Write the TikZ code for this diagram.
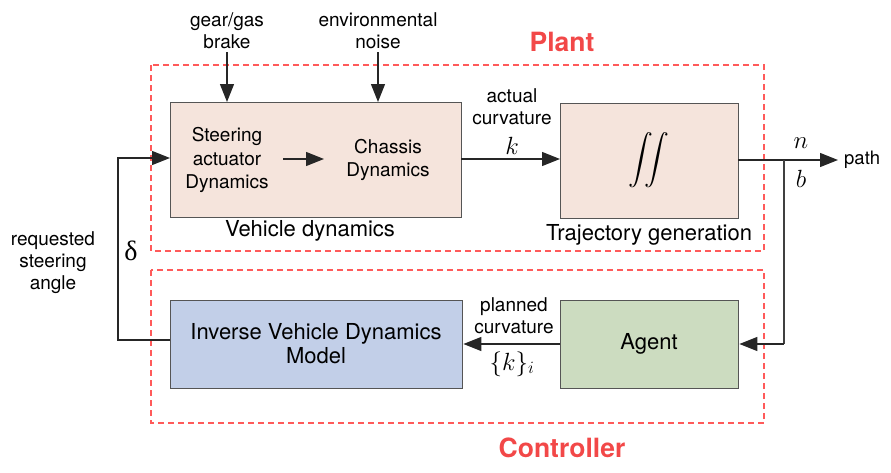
\documentclass[tikz,border=0pt]{standalone}
\usepackage{amsmath}
\usepackage{fontspec}
\setmainfont{TeX Gyre Heros}
\newfontfamily\grkserif{Liberation Serif}
\usetikzlibrary{arrows.meta}
\definecolor{boxline}{HTML}{555555}
\definecolor{plantfill}{HTML}{F5E4DC}
\definecolor{invfill}{HTML}{C2CFE8}
\definecolor{agentfill}{HTML}{CCDCC0}
\definecolor{redlab}{HTML}{F24848}
\definecolor{reddash}{HTML}{FF5A5A}
\tikzset{
  blk/.style={draw=boxline, line width=1.4pt, inner sep=0pt, anchor=north west},
  region/.style={draw=reddash, line width=1.4pt, dash pattern=on 6pt off 4pt},
  conn/.style={line width=1.3pt, black!85, -{Triangle[length=18pt,width=14pt]}},
  wire/.style={line width=1.3pt, black!75},
  lab/.style={font=\fontsize{19}{22}\selectfont, align=center, inner sep=0pt},
  boxtxt/.style={font=\fontsize{19}{23.5}\selectfont, align=center, inner sep=0pt},
  title/.style={font=\fontsize{26.5}{30}\selectfont\bfseries, text=redlab, inner sep=0pt},
  mathlab/.style={font=\fontsize{24}{28}\selectfont, inner sep=0pt}
}
\begin{document}
\begin{tikzpicture}[x=1pt,y=-1pt]
\useasboundingbox (0,0) rectangle (891,472);
% regions
\draw[region] (151,65) rectangle (764,251);
\draw[region] (151,270) rectangle (764,423);
\node[title] (plant) at (562,42) {Plant};
\node[title] (ctrl) at (562,448) {Controller};
% blocks
\node[blk, fill=plantfill, minimum width=291pt, minimum height=115pt] (veh) at (170,102) {};
\node[blk, fill=plantfill, minimum width=178pt, minimum height=115pt] (traj) at (560,103) {};
\node[blk, fill=invfill, minimum width=292pt, minimum height=88pt] (inv) at (170,300) {};
\node[blk, fill=agentfill, minimum width=178pt, minimum height=88pt] (agent) at (560,300) {};
% block texts
\node[boxtxt] (steer) at (227,160) {Steering\\actuator\\Dynamics};
\node[boxtxt] (chassis) at (388,160) {Chassis\\Dynamics};
\node[boxtxt, font=\fontsize{22}{24}\selectfont] (invt) at (316,344) {Inverse Vehicle Dynamics\\Model};
\node[boxtxt, font=\fontsize{22}{24}\selectfont] (agt) at (649,344) {Agent};
\node[inner sep=0pt, font=\fontsize{30}{32}\selectfont] (int) at (649,160) {$\displaystyle\iint$};
\node[lab, font=\fontsize{22}{24}\selectfont] (vdl) at (310,231) {Vehicle dynamics};
\node[lab, font=\fontsize{22}{24}\selectfont] (tgl) at (649,235) {Trajectory generation};
% input labels
\node[lab] (gear) at (227,31) {gear/gas\\brake};
\node[lab] (env) at (378,31) {environmental\\noise};
\coordinate (g0) at (227,52);
\coordinate (e0) at (378,52);
\draw[conn] (g0) -- (g0 |- veh.north);
\draw[conn] (e0) -- (e0 |- veh.north);
\coordinate (s0) at (283,159);
\coordinate (s1) at (324,159);
\draw[conn] (s0) -- (s1);
% k arrow
\coordinate (kout) at (461,159);
\draw[conn] (kout) -- (kout -| traj.west);
\node[lab] (actual) at (512,107) {actual\\curvature};
\node[mathlab] (k) at (512,146) {$k$};
% output
\coordinate (tout) at (738,160);
\coordinate (ptip) at (838,160);
\draw[conn] (tout) -- (ptip);
\node[lab, font=\fontsize{18.5}{22}\selectfont, anchor=west] (path) at (844,160) {path};
\node[mathlab] (n) at (801,143) {$n$};
\node[mathlab] (b) at (801,179) {$b$};
\coordinate (br) at (784,160);
\coordinate (br2) at (784,344);
\draw[wire] (br) -- (br2);
\draw[conn] (br2) -- (agent.east |- br2);
% planned curvature
\coordinate (a0) at (560,344);
\draw[conn] (a0) -- (inv.east |- a0);
\node[lab] (planned) at (514,316) {planned\\curvature};
\node[mathlab] (ki) at (512,364) {$\{k\}_i$};
% feedback
\coordinate (f0) at (170,340);
\coordinate (f1) at (118,340);
\coordinate (f2) at (118,158);
\draw[conn] (f0) -- (f1) -- (f2) -- (veh.west |- f2);
\node[mathlab, font=\fontsize{28}{30}\selectfont\grkserif] (delta) at (131,251) {δ};
\node[lab] (req) at (53,263) {requested\\steering\\angle};
\end{tikzpicture}
\end{document}
